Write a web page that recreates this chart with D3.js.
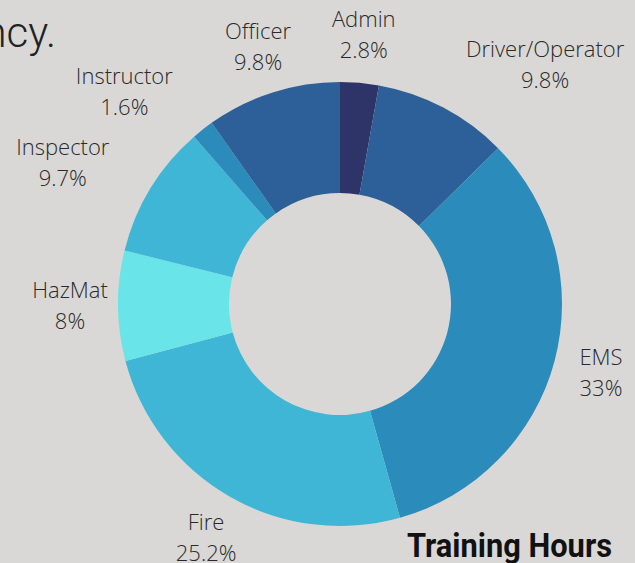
<!DOCTYPE html>
<html>
<head>
<meta charset="utf-8">
<script src="https://cdn.jsdelivr.net/npm/d3@7/dist/d3.min.js"></script>
<style>
  html, body { margin: 0; padding: 0; background: #d9d8d6; overflow: hidden; }
  svg { display: block; }
</style>
</head>
<body>
<div id="chart"></div>
<script>
// chart data
const categories = ["Admin", "Driver/Operator", "EMS", "Fire", "HazMat", "Inspector", "Instructor", "Officer"];
const shares = [2.8, 9.8, 33, 25.2, 8, 9.7, 1.6, 9.8];
const sliceColors = ["#2e3468", "#2d5f98", "#2b8bba", "#40b6d6", "#69e4e8", "#40b6d6", "#2b8bba", "#2d5f98"];

const data = categories.map((c, i) => ({ name: c, value: shares[i], color: sliceColors[i] }));

const svgWidth = 635;
const svgHeight = 563;
const cx = 340, cy = 304;
const outerR = 222, innerR = 111, labelR = 270;

const svg = d3.select("#chart")
  .append("svg")
  .attr("width", svgWidth)
  .attr("height", svgHeight)
  .style("font-family", "'Open Sans', sans-serif");

const g = svg.append("g").attr("transform", `translate(${cx},${cy})`);

const pie = d3.pie().value(d => d.value).sort(null);
const arc = d3.arc().innerRadius(innerR).outerRadius(outerR);
const arcs = pie(data);

g.selectAll("path.slice")
  .data(arcs)
  .enter()
  .append("path")
  .attr("class", "slice")
  .attr("d", arc)
  .attr("fill", d => d.data.color);

// labels: centred on the label radius, pushed sideways if they'd hit the ring
const labels = g.selectAll("g.label")
  .data(arcs)
  .enter()
  .append("g")
  .attr("class", "label");

labels.each(function(d) {
  const a = (d.startAngle + d.endAngle) / 2;
  const x = labelR * Math.sin(a);
  const y = -labelR * Math.cos(a);
  const t = d3.select(this).append("text")
    .attr("text-anchor", "middle")
    .style("font-size", "22px")
    .style("font-weight", 300)
    .style("fill", "#2a2a2a");
  t.append("tspan").attr("x", 0).attr("y", -8).text(d.data.name);
  t.append("tspan").attr("x", 0).attr("y", 23).text(d.data.value + "%");

  const bb = t.node().getBBox();
  const w = bb.width, h = 62;
  // closest point of the centred box to the chart centre
  const nx = Math.max(x - w / 2, Math.min(0, x + w / 2));
  const ny = Math.max(y - h / 2, Math.min(0, y + h / 2));
  const hitsRing = Math.hypot(nx, ny) < outerR;
  let shift = 0;
  if (hitsRing) shift = x > 0 ? w / 2 : -w / 2;
  d3.select(this).attr("transform", `translate(${x + shift},${y})`);
});

// cut-off title text at top left
svg.append("text")
  .attr("x", 56)
  .attr("y", 47)
  .attr("text-anchor", "end")
  .style("font-family", "Roboto, sans-serif")
  .style("font-size", "42px")
  .style("font-weight", 300)
  .style("fill", "#222")
  .text("ncy.");

svg.append("text")
  .attr("x", 612)
  .attr("y", 557)
  .attr("text-anchor", "end")
  .attr("textLength", 205)
  .attr("lengthAdjust", "spacingAndGlyphs")
  .style("font-family", "Roboto, sans-serif")
  .style("font-size", "33px")
  .style("font-weight", "bold")
  .style("fill", "#111")
  .text("Training Hours");
</script>
</body>
</html>
